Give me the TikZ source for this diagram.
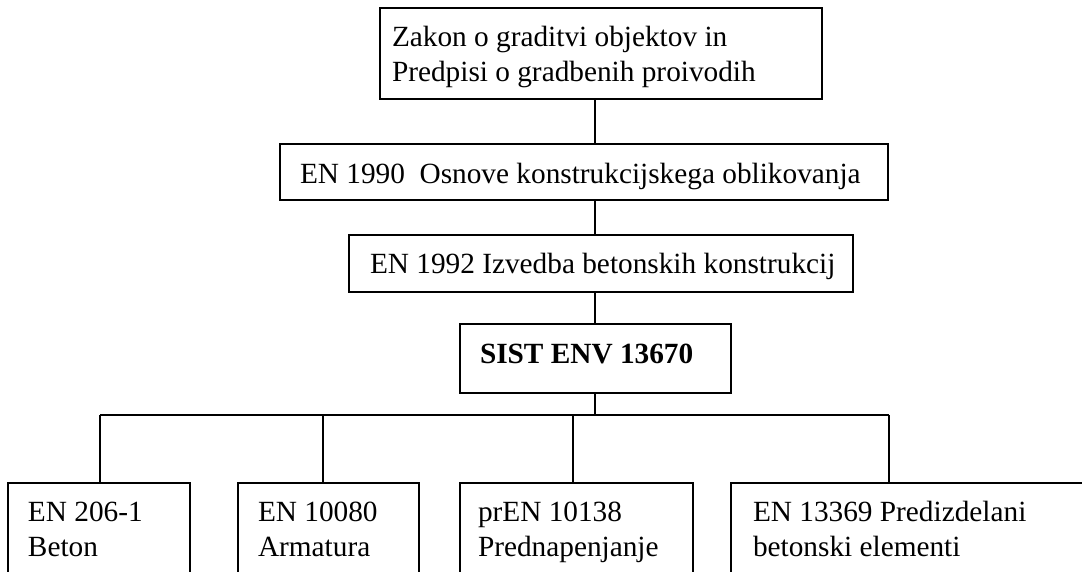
\documentclass[tikz,border=0pt]{standalone}
\usepackage{fontspec}
\setmainfont{Liberation Serif}
\newcommand\boxtxt[5]{\begin{minipage}[t][#2pt][t]{#1pt}\vspace{0pt}\parskip=0pt\parindent=0pt\leftskip=#3pt\relax\rule{0pt}{#4pt}#5\end{minipage}}
\begin{document}
\begin{tikzpicture}[x=1pt,y=-1pt,
  box/.style={draw, line width=1.7pt, inner sep=0pt, outer sep=0pt, anchor=north west, font=\fontsize{29.3}{35}\selectfont},
  conn/.style={line width=1.6pt}]
\clip (0,0) rectangle (1082,571);
\fill[white] (0,0) rectangle (1082,571);
\node[box] (A) at (380,8) {\boxtxt{442}{91}{12}{38}{\mbox{Zakon o graditvi objektov in}\\\mbox{Predpisi o gradbenih proivodih}}};
\node[box] (B) at (280,144) {\boxtxt{608}{56}{20}{39}{\mbox{EN 1990\ \ Osnove konstrukcijskega oblikovanja}}};
\node[box] (C) at (349,235) {\boxtxt{504}{57}{21}{38}{\mbox{EN 1992 Izvedba betonskih konstrukcij}}};
\node[box, font=\fontsize{29.3}{35}\selectfont\bfseries] (D) at (460,324) {\boxtxt{271}{69}{20}{39}{\mbox{SIST ENV 13670}}};
\node[box] (E1) at (8,483) {\boxtxt{182}{120}{20}{38}{\mbox{EN 206-1}\\\mbox{Beton}}};
\node[box] (E2) at (238,483) {\boxtxt{181}{120}{20}{38}{\mbox{EN 10080}\\\mbox{Armatura}}};
\node[box] (E3) at (460,483) {\boxtxt{233}{120}{18}{38}{\mbox{prEN 10138}\\\mbox{Prednapenjanje}}};
\node[box] (E4) at (731,483) {\boxtxt{400}{120}{22}{38}{\mbox{EN 13369 Predizdelani}\\\mbox{betonski elementi}}};
\coordinate (cx) at (595,0);
\coordinate (bus) at (595,415);
\coordinate (k1) at (100,415);
\coordinate (k2) at (323,415);
\coordinate (k3) at (573,415);
\coordinate (k4) at (889,415);
\draw[conn] (A.south -| cx) -- (B.north -| cx);
\draw[conn] (B.south -| cx) -- (C.north -| cx);
\draw[conn] (C.south -| cx) -- (D.north -| cx);
\draw[conn] (D.south -| cx) -- (bus);
\draw[conn] (k1) -- (k4);
\draw[conn] (k1) -- (E1.north -| k1);
\draw[conn] (k2) -- (E2.north -| k2);
\draw[conn] (k3) -- (E3.north -| k3);
\draw[conn] (k4) -- (E4.north -| k4);
\end{tikzpicture}
\end{document}
